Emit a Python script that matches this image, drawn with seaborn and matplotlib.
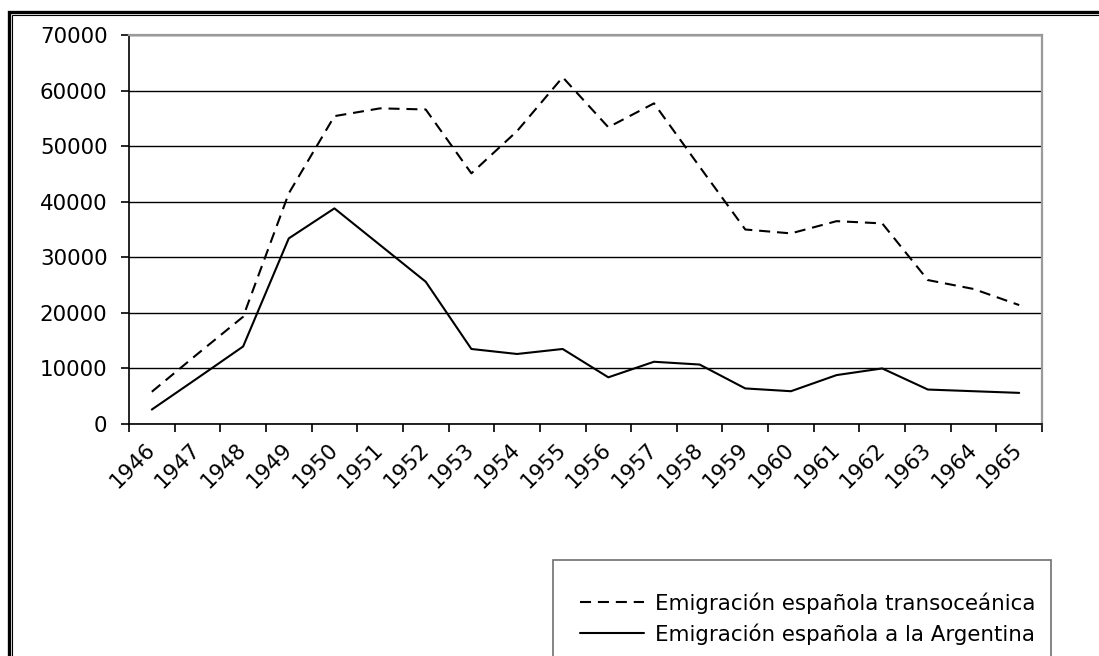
import numpy as np
import pandas as pd
import seaborn as sns
import matplotlib.pyplot as plt
from matplotlib.patches import Rectangle
from matplotlib.lines import Line2D
from matplotlib.ticker import FixedLocator, NullFormatter, FixedFormatter

years = [str(y) for y in range(1946, 1966)]
transoceanica = [5800, 12600, 19300, 41500, 55400, 56800, 56600, 45100, 52700, 62400,
                 53400, 57700, 46300, 35000, 34300, 36500, 36100, 25900, 24300, 21400]
argentina = [2600, 8250, 13950, 33400, 38800, 32200, 25600, 13500, 12600, 13500,
             8400, 11200, 10700, 6400, 5900, 8800, 10000, 6200, 5900, 5600]
series_names = ["Emigración española transoceánica", "Emigración española a la Argentina"]

df = pd.DataFrame({
    "pos": list(range(len(years))) * 2,
    "valor": transoceanica + argentina,
    "serie": [series_names[0]] * len(years) + [series_names[1]] * len(years),
})

sns.set_style("white")
plt.rcParams["font.family"] = ["DejaVu Sans"]
plt.rcParams["text.color"] = "black"
plt.rcParams["xtick.color"] = "black"
plt.rcParams["ytick.color"] = "black"

FS = 15.4
DASH = (5.3, 3.3)

W, H = 1099, 656
fig = plt.figure(figsize=(W / 100, H / 100), dpi=100)
ax = fig.add_axes([129 / W, 1 - 424 / H, 913 / W, 389 / H])

sns.lineplot(
    data=df, x="pos", y="valor", hue="serie", style="serie",
    palette=["black", "black"],
    dashes={series_names[0]: DASH, series_names[1]: ""},
    linewidth=1.5, ax=ax, legend=False,
)

ax.set_xlim(-0.5, len(years) - 0.5)
ax.set_ylim(0, 70000)
ax.set_xlabel("")
ax.set_ylabel("")

# ticks at category boundaries, labels at centres
ax.xaxis.set_major_locator(FixedLocator(np.arange(-0.5, len(years), 1.0)))
ax.xaxis.set_major_formatter(NullFormatter())
ax.xaxis.set_minor_locator(FixedLocator(np.arange(len(years))))
ax.xaxis.set_minor_formatter(FixedFormatter(years))
ax.tick_params(axis="x", which="major", direction="out", length=5.5, width=1.2,
               color="black", bottom=True)
ax.tick_params(axis="x", which="minor", length=0, pad=16, labelsize=FS)
for lab in ax.get_xticklabels(minor=True):
    lab.set_rotation(45)
    lab.set_ha("right")
    lab.set_va("center")
    lab.set_rotation_mode("anchor")

ax.set_yticks(np.arange(0, 70001, 10000))
ax.tick_params(axis="y", direction="out", length=5.5, width=1.2, color="black",
               left=True, labelsize=FS, pad=10)
ax.yaxis.grid(True, color="black", linewidth=1.0)
ax.set_axisbelow(True)

for side in ["left", "bottom"]:
    ax.spines[side].set_color("black")
    ax.spines[side].set_linewidth(1.2)
for side in ["top", "right"]:
    ax.spines[side].set_color("#9a9a9a")
    ax.spines[side].set_linewidth(1.6)

# legend inside a box that runs past the bottom of the picture
handles = [
    Line2D([], [], color="black", linewidth=1.5, linestyle=(0, DASH)),
    Line2D([], [], color="black", linewidth=1.5),
]
fig.legend(handles, series_names, loc="upper left",
           bbox_to_anchor=(580 / W, 1 - 592 / H), frameon=False,
           fontsize=FS, handlelength=3.0, handletextpad=0.5, labelspacing=0.45,
           borderaxespad=0, borderpad=0)
fig.patches.append(Rectangle((553 / W, -0.1), (1051 - 553) / W, 0.1 + (656 - 560) / H,
                             transform=fig.transFigure, fill=False,
                             edgecolor="#707070", linewidth=1.2))

# double outer frame
fig.patches.append(Rectangle((9 / W, -0.1), 1.2, 1.1 - 11.7 / H,
                             transform=fig.transFigure, fill=False,
                             edgecolor="black", linewidth=2.4))
fig.patches.append(Rectangle((12.3 / W, -0.1), 1.2, 1.1 - 15 / H,
                             transform=fig.transFigure, fill=False,
                             edgecolor="black", linewidth=0.8))

fig.savefig("out.png", dpi=100)
